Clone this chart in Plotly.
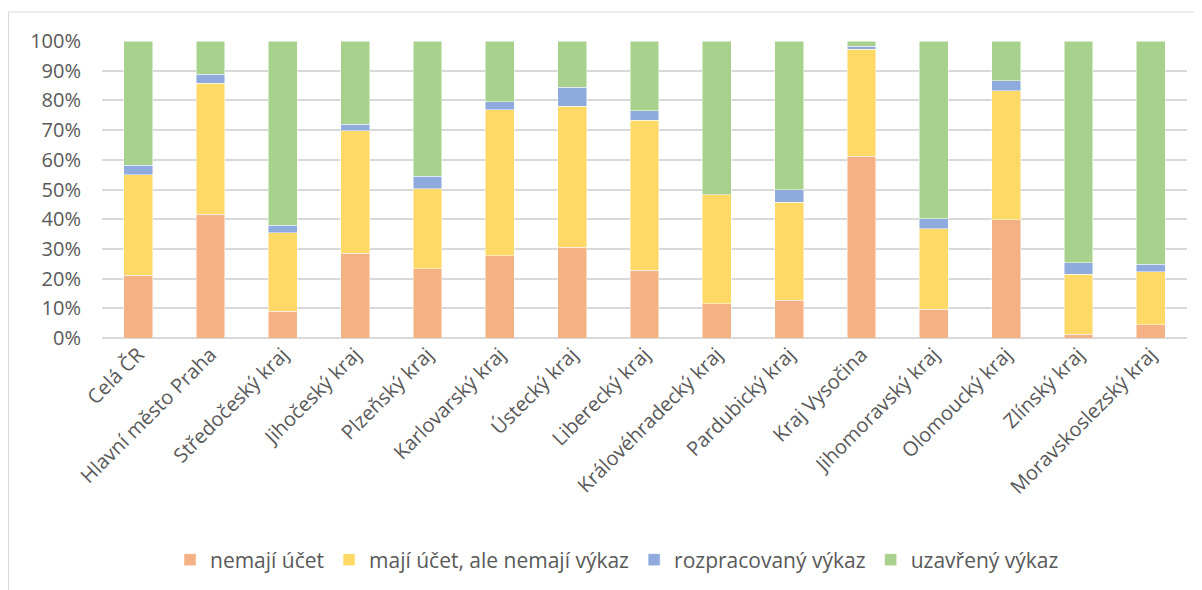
import plotly.graph_objects as go

categories = ["Celá ČR", "Hlavní město Praha", "Středočeský kraj", "Jihočeský kraj",
              "Plzeňský kraj", "Karlovarský kraj", "Ústecký kraj", "Liberecký kraj",
              "Královéhradecký kraj", "Pardubický kraj", "Kraj Vysočina",
              "Jihomoravský kraj", "Olomoucký kraj", "Zlínský kraj", "Moravskoslezský kraj"]

nemaji_ucet = [21.1, 41.6, 9.0, 28.5, 23.4, 27.7, 30.5, 22.8, 11.5, 12.7, 61.2, 9.6, 39.9, 1.2, 4.4]
maji_ucet_bez_vykazu = [33.8, 44.1, 26.5, 41.2, 26.8, 49.1, 47.5, 50.5, 36.7, 33.0, 36.1, 27.2, 43.3, 20.2, 17.9]
rozpracovany = [3.2, 3.1, 2.4, 2.3, 4.2, 2.8, 6.4, 3.3, 0.1, 4.2, 1.0, 3.3, 3.5, 4.0, 2.5]
uzavreny = [41.9, 11.2, 62.1, 28.0, 45.6, 20.4, 15.6, 23.4, 51.7, 50.1, 1.7, 59.9, 13.3, 74.6, 75.2]

series_names = ["nemají účet", "mají účet, ale nemají výkaz", "rozpracovaný výkaz", "uzavřený výkaz"]
colors = ["#F4B183", "#FFD966", "#8FAADC", "#A9D18E"]
y_ticks = [0, 10, 20, 30, 40, 50, 60, 70, 80, 90, 100]
y_tick_labels = [f"{v}%" for v in y_ticks]

fig = go.Figure()
for name, vals, col in zip(series_names, [nemaji_ucet, maji_ucet_bez_vykazu, rozpracovany, uzavreny], colors):
    fig.add_trace(go.Bar(x=categories, y=vals, name=name,
                         marker=dict(color=col, line=dict(color="rgba(255,255,255,0.6)", width=0.8))))

# page body has an 8px default margin; figure coordinates below are offset by it
OFF = 8
W, H = 1202 - OFF, 590 - OFF
L, T, R, B = 102 - OFF, 41 - OFF, 15, 590 - 338
PW, PH = W - L - R, H - T - B

font_family = "Open Sans, Noto Sans, sans-serif"
fig.update_layout(
    barmode="stack",
    bargap=0.6,
    width=W, height=H,
    margin=dict(l=L, r=R, t=T, b=B, autoexpand=False),
    paper_bgcolor="white", plot_bgcolor="white",
    font=dict(family=font_family, size=20, color="#595959"),
    legend=dict(orientation="h", x=(617 - 102) / PW, xanchor="center",
                y=(338 - 560) / PH, yanchor="middle",
                font=dict(size=21, color="#595959"), traceorder="normal"),
    xaxis=dict(tickangle=-45, showgrid=False, showline=False, ticks="", automargin=False,
               tickfont=dict(size=20, color="#595959")),
    yaxis=dict(range=[0, 100], tickvals=y_ticks, ticktext=y_tick_labels, showgrid=True,
               gridcolor="#D9D9D9", gridwidth=1.8, zeroline=True, zerolinecolor="#D9D9D9",
               zerolinewidth=1.8, showline=False, ticks="", ticklabelstandoff=20, automargin=False,
               tickfont=dict(size=20, color="#595959")),
    shapes=[
        dict(type="line", xref="paper", yref="paper",
             x0=(8.5 - 102) / PW, x1=(8.5 - 102) / PW,
             y0=(338 - 12) / PH, y1=(338 - 600) / PH,
             line=dict(color="#D9D9D9", width=1.2)),
        dict(type="line", xref="paper", yref="paper",
             x0=(8.5 - 102) / PW, x1=(1210 - 102) / PW,
             y0=(338 - 12) / PH, y1=(338 - 12) / PH,
             line=dict(color="#D9D9D9", width=1.2)),
    ],
)

fig.write_html("out.html")
